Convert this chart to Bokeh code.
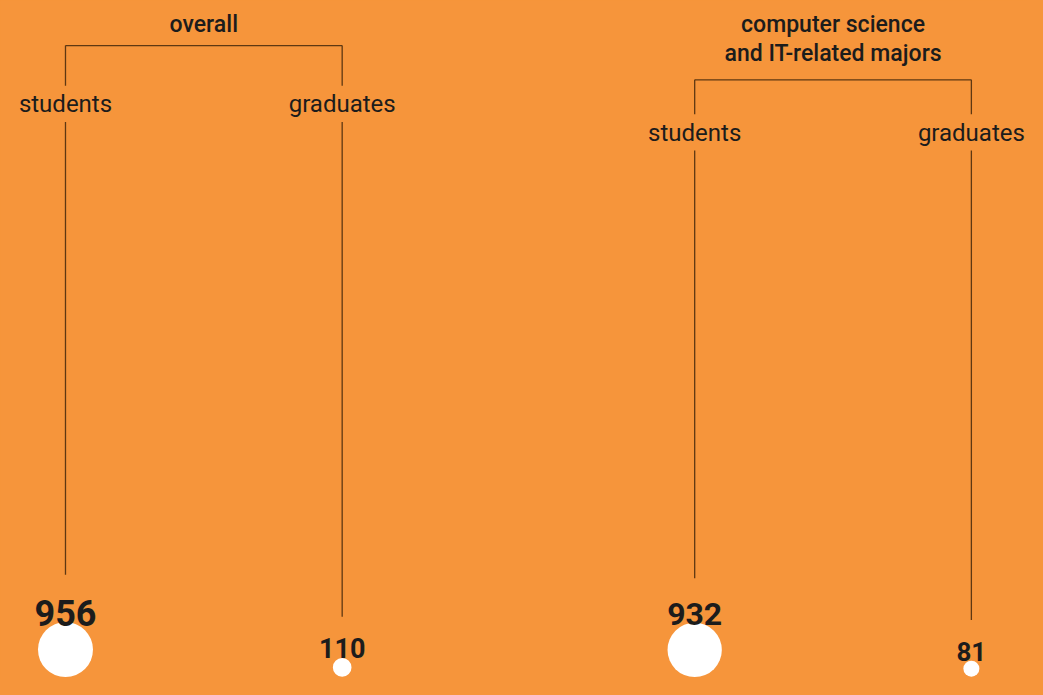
import numpy as np
from bokeh.plotting import figure
from bokeh.models import Range1d, ColumnDataSource
from bokeh.embed import file_html
from bokeh.resources import INLINE
from bokeh.core.properties import value

# ---- data ----
groups = ["overall", "computer science\nand IT-related majors"]
categories = ["students", "graduates"]
values_overall = [956, 110]
values_cs = [932, 81]
group_values = [values_overall, values_cs]

# ---- style / layout ----
BG = "#F6953B"
INK = "#1c1c1c"
LINE = "#5e3812"
FONT = "Roboto"
TITLE_FONT = "Roboto Medium"
group_x0 = [66, 705]       # x of "students" leg
pair_gap = 281             # distance between legs
bracket_y = [48, 83]
cat_label_y = [108, 137]
title_top = [26, 27]
title_line_h = 29
circle_bottom = 692
r_max = 27.5
v_ref = max(max(v) for v in group_values)
value_font = {956: 36, 932: 32, 110: 27, 81: 26}

p = figure(width=1027, height=679, output_backend="svg", toolbar_location=None,
           x_range=Range1d(0, 1043), y_range=Range1d(695, 2), min_border=0)
p.background_fill_color = BG
p.border_fill_color = BG
p.outline_line_color = None
p.axis.visible = False
p.grid.visible = False

seg = dict(x0=[], y0=[], x1=[], y1=[])
cx, cy, cr = [], [], []
vx, vy, vt, vs = [], [], [], []
lx, ly, lt = [], [], []
tx, ty, tt = [], [], []

for g, (name, vals) in enumerate(zip(groups, group_values)):
    xs = [group_x0[g] + i * pair_gap for i in range(len(vals))]
    # bracket top
    seg["x0"].append(xs[0]); seg["x1"].append(xs[-1])
    seg["y0"].append(bracket_y[g]); seg["y1"].append(bracket_y[g])
    # title
    for k, line in enumerate(name.split("\n")):
        tx.append((xs[0] + xs[-1]) / 2); ty.append(title_top[g] + k * title_line_h); tt.append(line)
    for i, (x, v) in enumerate(zip(xs, vals)):
        r = r_max * np.sqrt(v / v_ref)
        ccy = circle_bottom - r
        cx.append(x); cy.append(ccy); cr.append(r)
        fs = value_font.get(v, 28)
        base = ccy - r - 10
        vx.append(x); vy.append(base); vt.append(str(v)); vs.append(f"{fs}px")
        label_top = base - 0.72 * fs
        # leg: bracket -> category label, category label -> value label
        seg["x0"] += [x, x]; seg["x1"] += [x, x]
        seg["y0"] += [bracket_y[g], cat_label_y[g] + 18]
        seg["y1"] += [cat_label_y[g] - 19, label_top - 13]
        lx.append(x); ly.append(cat_label_y[g]); lt.append(categories[i])

p.segment(x0="x0", y0="y0", x1="x1", y1="y1", source=ColumnDataSource(seg),
          line_color=LINE, line_width=1.3)
p.circle(x=cx, y=cy, radius=cr, radius_units="screen", fill_color="white",
         line_color=None)
src_v = ColumnDataSource(dict(x=vx, y=vy, t=vt, s=vs))
p.text(x="x", y="y", text="t", text_font_size="s", source=src_v,
       text_font=value(FONT), text_font_style="bold", text_color=INK,
       text_align="center", text_baseline="alphabetic")
p.text(x=lx, y=ly, text=lt, text_font=value(FONT), text_font_size="24px",
       text_color=INK, text_align="center", text_baseline="middle")
p.text(x=tx, y=ty, text=tt, text_font=value(TITLE_FONT), text_font_size="23px",
       text_color=INK, text_align="center", text_baseline="middle")

html = file_html(p, INLINE)
html = html.replace("</head>", "<style>html,body{background:%s;}</style></head>" % BG, 1)
open("out.html", "w").write(html)
